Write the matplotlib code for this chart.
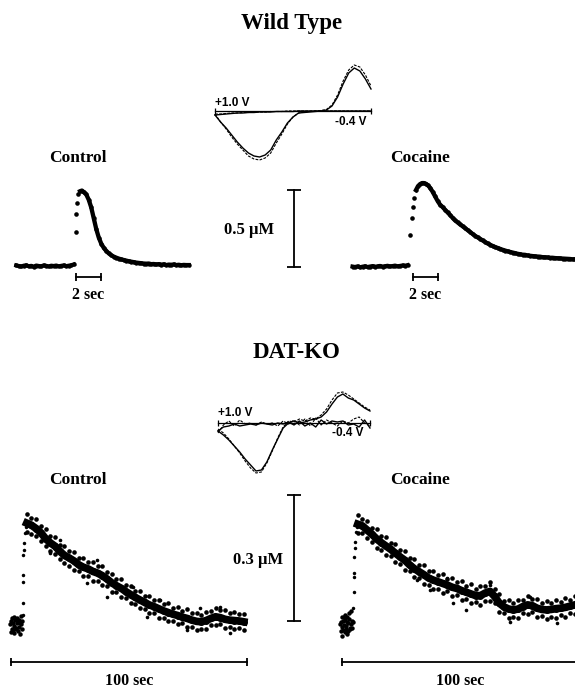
import numpy as np
import matplotlib
matplotlib.use("Agg")
import matplotlib.pyplot as plt

plt.rcParams['font.family'] = ['Liberation Serif', 'DejaVu Serif']

# ---------------- Wild type: concentration traces (sec, uM) ----------------
wt_ctrl_base_t = np.round(np.arange(-4.7, -0.05, 0.2), 2)
wt_ctrl_base_c = [0.004, 0.0, -0.003, 0.002, 0.005, -0.002, 0.001, -0.004, 0.003, 0.0,
                  -0.002, 0.004, 0.001, -0.003, 0.002, 0.0, 0.003, -0.002, 0.001, 0.004,
                  -0.001, 0.002, 0.005, 0.01]
wt_ctrl_rise_t = [0.05, 0.1, 0.15, 0.25]
wt_ctrl_rise_c = [0.22, 0.34, 0.41, 0.47]
wt_ctrl_decay_t = np.concatenate([[0.4, 0.55, 0.7], np.round(np.arange(0.9, 9.2, 0.2), 2)])
wt_ctrl_decay_c = [0.485, 0.49, 0.48,
                   0.465, 0.43, 0.38, 0.31, 0.24, 0.185, 0.145, 0.118, 0.098, 0.082,
                   0.07, 0.061, 0.054, 0.048, 0.043, 0.039, 0.035, 0.031, 0.028, 0.025,
                   0.022, 0.02, 0.018, 0.016, 0.015, 0.016, 0.012, 0.013, 0.01, 0.012,
                   0.009, 0.011, 0.006, 0.009, 0.008, 0.01, 0.006, 0.008, 0.005, 0.007,
                   0.006, 0.006]

wt_coc_base_t = np.round(np.arange(-4.6, -0.1, 0.2), 2)
wt_coc_base_c = [0.003, 0.0, 0.004, -0.002, 0.002, 0.005, 0.0, 0.003, 0.006, 0.002,
                 0.004, 0.007, 0.003, 0.005, 0.008, 0.004, 0.006, 0.009, 0.005, 0.007,
                 0.01, 0.008, 0.012]
wt_coc_rise_t = [0.02, 0.18, 0.26, 0.32]
wt_coc_rise_c = [0.21, 0.32, 0.39, 0.445]
wt_coc_decay_t = np.concatenate([[0.48, 0.64, 0.8, 0.96, 1.12, 1.28, 1.44],
                                 np.round(np.arange(1.6, 13.3, 0.2), 2)])
wt_coc_decay_c = [0.50, 0.525, 0.538, 0.545, 0.545, 0.54, 0.53,
                  0.515, 0.49, 0.46, 0.43, 0.405, 0.39, 0.372, 0.355, 0.338, 0.32,
                  0.303, 0.29, 0.277, 0.265, 0.253, 0.24, 0.228, 0.215, 0.203, 0.193,
                  0.183, 0.173, 0.163, 0.153, 0.145, 0.137, 0.13, 0.124, 0.118, 0.112,
                  0.107, 0.102, 0.098, 0.094, 0.09, 0.086, 0.083, 0.08, 0.079, 0.075,
                  0.073, 0.071, 0.069, 0.068, 0.067, 0.064, 0.063, 0.062, 0.06, 0.06,
                  0.058, 0.057, 0.056, 0.055, 0.054, 0.053, 0.052, 0.05, 0.05]

# ---------------- DAT-KO: concentration traces (sec, uM) ----------------
ko_band_t = np.arange(2, 95, 2)

kc_base_t = [-5.0, -4.6, -4.2, -3.8, -3.4, -3.0, -2.6, -2.2, -1.8, -1.4, -1.0, -0.6, -0.2,
             -4.8, -4.0, -3.2, -2.4, -1.6, -0.8, -0.1,
             -4.4, -3.6, -2.8, -2.0, -1.2, -0.4]
kc_base_c = [0.004, 0.012, -0.006, 0.008, 0.0, 0.014, -0.004, 0.006, 0.01, -0.002, 0.008, 0.004, 0.012,
             -0.014, -0.01, -0.016, -0.008, -0.012, -0.018, -0.006,
             0.018, 0.022, 0.016, 0.02, 0.014, 0.024]
kc_rise_t = [0.4, 0.4, 0.45, 0.45, 0.5, 0.85, 0.85, 1.3, 1.7]
kc_rise_c = [0.026, 0.055, 0.105, 0.121, 0.169, 0.181, 0.198, 0.221, 0.236]
kc_mid = [0.245, 0.24, 0.232, 0.222, 0.208, 0.198, 0.19, 0.178, 0.168, 0.162,
          0.155, 0.146, 0.14, 0.136, 0.13, 0.126, 0.12, 0.112, 0.103, 0.096,
          0.09, 0.082, 0.075, 0.068, 0.062, 0.056, 0.05, 0.046, 0.041, 0.036,
          0.032, 0.028, 0.025, 0.021, 0.018, 0.014, 0.011, 0.01, 0.013, 0.018,
          0.022, 0.02, 0.016, 0.014, 0.013, 0.012, 0.01]
kc_hi = [0.266, 0.258, 0.254, 0.238, 0.23, 0.214, 0.212, 0.194, 0.19, 0.178,
         0.176, 0.162, 0.162, 0.152, 0.152, 0.142, 0.142, 0.128, 0.124, 0.112,
         0.112, 0.098, 0.096, 0.084, 0.084, 0.072, 0.072, 0.062, 0.062, 0.052,
         0.054, 0.044, 0.046, 0.036, 0.04, 0.03, 0.03, 0.026, 0.034, 0.036,
         0.044, 0.038, 0.038, 0.03, 0.034, 0.028, 0.028]
kc_lo = [0.224, 0.22, 0.214, 0.202, 0.19, 0.178, 0.172, 0.16, 0.15, 0.144,
         0.134, 0.13, 0.118, 0.12, 0.108, 0.108, 0.098, 0.096, 0.082, 0.08,
         0.068, 0.066, 0.054, 0.052, 0.042, 0.04, 0.03, 0.03, 0.02, 0.02,
         0.012, 0.012, 0.004, 0.006, -0.002, -0.002, -0.01, -0.006, -0.006, 0.002,
         0.002, 0.004, -0.004, -0.002, -0.008, -0.004, -0.01]
kc_stray_t = [11.9, 16.0, 27.5, 31.8, 36.0, 47.0, 53.0, 58.5, 70.0, 75.4, 84.0, 88.0]
kc_stray_c = [0.174, 0.205, 0.102, 0.157, 0.069, 0.093, 0.021, 0.062, -0.01, 0.043, 0.045, -0.017]

kk_base_t = [-5.4, -5.0, -4.6, -4.2, -3.8, -3.4, -3.0, -2.6, -2.2, -1.8, -1.4, -1.0, -0.6, -0.2,
             -5.2, -4.4, -3.6, -2.8, -2.0, -1.2, -0.4,
             -4.8, -4.0, -3.2, -2.4, -1.6, -0.8,
             -4.5, -2.6]
kk_base_c = [0.002, 0.008, -0.004, 0.01, 0.0, 0.012, -0.002, 0.006, 0.004, 0.014, -0.006, 0.002, 0.01, 0.006,
             -0.014, -0.012, -0.016, -0.01, -0.014, -0.01, -0.008,
             0.018, 0.02, 0.024, 0.02, 0.028, 0.034,
             -0.026, -0.022]
kk_rise_t = [0.0, 0.4, 0.4, 0.45, 0.5, 0.85, 0.85, 1.3, 1.7]
kk_rise_c = [0.04, 0.079, 0.114, 0.124, 0.162, 0.183, 0.198, 0.221, 0.233]
kk_mid = [0.24, 0.236, 0.226, 0.216, 0.205, 0.196, 0.188, 0.18, 0.171, 0.162,
          0.154, 0.143, 0.134, 0.127, 0.12, 0.112, 0.107, 0.103, 0.099, 0.095,
          0.09, 0.087, 0.082, 0.078, 0.074, 0.07, 0.07, 0.076, 0.08, 0.068,
          0.052, 0.043, 0.038, 0.036, 0.038, 0.044, 0.048, 0.046, 0.04, 0.037,
          0.036, 0.037, 0.039, 0.04, 0.042, 0.045, 0.048]
kk_hi = [0.262, 0.252, 0.248, 0.232, 0.228, 0.212, 0.21, 0.196, 0.194, 0.178,
         0.176, 0.16, 0.156, 0.142, 0.142, 0.128, 0.128, 0.118, 0.122, 0.11,
         0.112, 0.102, 0.104, 0.094, 0.098, 0.086, 0.094, 0.094, 0.102, 0.086,
         0.074, 0.058, 0.06, 0.052, 0.06, 0.06, 0.07, 0.062, 0.062, 0.052,
         0.058, 0.052, 0.06, 0.054, 0.064, 0.06, 0.068]
kk_lo = [0.218, 0.218, 0.206, 0.198, 0.184, 0.178, 0.166, 0.164, 0.15, 0.146,
         0.132, 0.128, 0.114, 0.112, 0.098, 0.096, 0.086, 0.086, 0.076, 0.08,
         0.068, 0.072, 0.06, 0.062, 0.052, 0.054, 0.048, 0.058, 0.058, 0.052,
         0.03, 0.028, 0.016, 0.02, 0.016, 0.028, 0.026, 0.03, 0.018, 0.022,
         0.014, 0.02, 0.016, 0.024, 0.02, 0.028, 0.026]
kk_stray_t = [15.7, 27.0, 32.6, 40.0, 42.4, 48.0, 58.0, 66.5, 75.0, 86.4]
kk_stray_c = [0.179, 0.107, 0.083, 0.112, 0.052, 0.036, 0.095, 0.007, 0.067, 0.005]

# ---------------- cyclic voltammograms (V, current a.u.) ----------------
cv_volts = [1.0, 0.95, 0.9, 0.85, 0.8, 0.75, 0.7, 0.65, 0.6, 0.55, 0.5, 0.45, 0.4, 0.35,
            0.3, 0.25, 0.2, 0.15, 0.1, 0.05, 0.0, -0.05, -0.1, -0.15, -0.2, -0.25, -0.3,
            -0.35, -0.4]
wt_cv_solid = [-0.4, -1.1, -1.7, -2.4, -3.1, -3.7, -4.2, -4.5, -4.6, -4.4, -3.9, -2.9, -2.1,
               -1.2, -0.6, -0.2, -0.15, -0.1, -0.05, 0.0, 0.1, 0.5, 1.4, 2.7, 3.8, 4.3, 4.0,
               3.2, 2.2]
wt_cv_dash = [-0.3, -1.1, -1.8, -2.6, -3.3, -3.9, -4.5, -4.8, -4.9, -4.7, -4.2, -3.2, -2.3,
              -1.3, -0.6, -0.2, -0.1, -0.05, 0.0, 0.05, 0.15, 0.6, 1.6, 3.0, 4.1, 4.6, 4.4,
              3.6, 2.5]
wt_cv_solid_ret = [-0.4, -0.35, -0.3, -0.25, -0.2, -0.2, -0.15, -0.15, -0.1, -0.1, -0.1, -0.05,
                   -0.05, -0.05, -0.05, 0.0, 0.0, 0.0, 0.0, 0.0, 0.0, 0.0, 0.0, 0.0, 0.0, 0.0,
                   0.0, 0.0, 0.0]
wt_cv_dash_ret = [-0.3, -0.3, -0.25, -0.2, -0.2, -0.15, -0.15, -0.1, -0.1, -0.1, -0.05, -0.05,
                  -0.05, 0.0, 0.0, 0.0, 0.0, 0.0, 0.0, 0.0, 0.0, 0.0, 0.0, 0.0, 0.0, 0.0, 0.0,
                  0.0, 0.0]
ko_cv_solid = [-0.8, -1.2, -1.7, -2.3, -2.9, -3.6, -4.2, -4.8, -4.7, -3.9, -2.7, -1.6, -0.5,
               0.0, 0.2, 0.0, 0.1, 0.3, 0.4, 0.6, 1.1, 1.9, 2.6, 2.9, 2.5, 2.3, 1.9, 1.5, 1.2]
ko_cv_dash = [-0.6, -1.0, -1.6, -2.3, -3.0, -3.8, -4.5, -5.0, -4.9, -4.0, -2.8, -1.5, -0.4,
              0.2, 0.1, 0.4, 0.2, 0.5, 0.4, 0.8, 1.4, 2.3, 3.0, 3.1, 2.8, 2.4, 2.0, 1.6, 1.3]
ko_cv_solid_ret = [-0.8, -0.4, -0.3, -0.1, -0.3, -0.2, -0.1, -0.2, 0.0, -0.1, -0.2, 0.0, -0.1,
                   0.1, -0.2, 0.2, -0.3, 0.0, -0.4, 0.3, -0.1, 0.2, 0.1, 0.2, -0.2, -0.1, -0.4,
                   0.3, -0.5]
ko_cv_dash_ret = [-1.0, -0.2, 0.2, -0.3, 0.3, -0.1, 0.0, -0.2, 0.1, -0.1, 0.0, -0.3, 0.2,
                  -0.1, 0.3, -0.2, 0.4, -0.3, 0.5, -0.2, 0.3, 0.0, -0.3, 0.2, 0.0, 0.4, 0.6,
                  0.0, -0.3]

W, H = 575, 688
fig = plt.figure(figsize=(W / 100, H / 100), dpi=100)


def make_axes(box, x_ref_px, y_ref_px, x_ref_val, y_ref_val, px_per_x, px_per_y):
    # box in pixels from top-left; map pixel reference points to data values
    x0, y0, x1, y1 = box
    ax = fig.add_axes([x0 / W, 1 - y1 / H, (x1 - x0) / W, (y1 - y0) / H])
    ax.set_xlim(x_ref_val + (x0 - x_ref_px) / px_per_x, x_ref_val + (x1 - x_ref_px) / px_per_x)
    ax.set_ylim(y_ref_val + (y_ref_px - y1) / px_per_y, y_ref_val + (y_ref_px - y0) / px_per_y)
    ax.axis('off')
    return ax


def wt_trace(ax, base_t, base_c, rise_t, rise_c, decay_t, decay_c):
    kw = dict(color='black', marker='o', ms=3.2, mew=0)
    ax.plot(base_t, base_c, '-', lw=3.0, **kw)
    ax.plot(rise_t, rise_c, 'o', color='black', ms=3.3, mew=0)
    ax.plot(decay_t, decay_c, '-', lw=3.1, **kw)


def ko_trace(ax, base_t, base_c, rise_t, rise_c, mid, hi, lo, stray_t, stray_c):
    ax.plot(base_t, base_c, 'o', color='black', ms=3.2, mew=0)
    ax.plot(rise_t, rise_c, 'o', color='black', ms=2.5, mew=0)
    ax.plot(ko_band_t, mid, '-', color='black', lw=5.5)
    ax.plot(ko_band_t, mid, 'o', color='black', ms=5.0, mew=0)
    ax.plot(ko_band_t, hi, 'o', color='black', ms=3.3, mew=0)
    ax.plot(ko_band_t, lo, 'o', color='black', ms=3.3, mew=0)
    ax.plot(stray_t, stray_c, 'o', color='black', ms=2.6, mew=0)


def time_bar(ax, t0, t1, y, label, label_y):
    ax.plot([t0, t1], [y, y], color='black', lw=1.3, marker='|', ms=6, mew=1.3)
    ax.text((t0 + t1) / 2, label_y, label, ha='center', va='center',
            fontsize=11.5, fontweight='bold')


label_kw = dict(ha='center', va='center', fontsize=12.5, fontweight='bold')
cv_kw = dict(fontsize=8.5, fontweight='bold', family=['Liberation Sans', 'DejaVu Sans'])

# ---------------- Wild type ----------------
fig.text(292 / W, 1 - 23 / H, 'Wild Type', ha='center', va='center',
         fontsize=16.5, fontweight='bold')

ax = make_axes((0, 140, 200, 310), 75, 266, 0.0, 0.0, 12.5, 154)
wt_trace(ax, wt_ctrl_base_t, wt_ctrl_base_c, wt_ctrl_rise_t, wt_ctrl_rise_c,
         wt_ctrl_decay_t, wt_ctrl_decay_c)
ax.text(0.24, 0.701, 'Control', **label_kw)
time_bar(ax, 0.08, 2.08, -0.071, '2 sec', -0.188)

ax = make_axes((340, 140, 575, 310), 410, 267, 0.0, 0.0, 12.5, 154)
wt_trace(ax, wt_coc_base_t, wt_coc_base_c, wt_coc_rise_t, wt_coc_rise_c,
         wt_coc_decay_t, wt_coc_decay_c)
ax.text(0.8, 0.708, 'Cocaine', **label_kw)
time_bar(ax, 0.2, 2.2, -0.065, '2 sec', -0.182)

# concentration scale bar
ax = make_axes((205, 175, 340, 285), 294, 267, 0.0, 0.0, 1.0, 154)
ax.plot([0, 0], [0, 0.5], color='black', lw=1.3, marker='_', ms=10, mew=1.3)
ax.text(-45, 0.24, '0.5 \u03bcM', ha='center', va='center', fontsize=12, fontweight='bold')

# voltammogram
ax = make_axes((205, 55, 380, 170), 215, 111, 1.0, 0.0, -111.43, 10)
ax.plot([1.0, -0.4], [0, 0], color='black', lw=0.9, marker='|', ms=4, mew=0.9)
ax.plot(cv_volts, wt_cv_dash, color='black', lw=0.8, ls=(0, (2.5, 1.2)))
ax.plot(cv_volts, wt_cv_dash_ret, color='black', lw=0.8, ls=(0, (2.5, 1.2)))
ax.plot(cv_volts, wt_cv_solid, color='black', lw=1.0)
ax.plot(cv_volts, wt_cv_solid_ret, color='black', lw=1.0)
ax.text(1.0, 0.8, '+1.0 V', ha='left', va='center', **cv_kw)
ax.text(-0.364, -1.1, '-0.4 V', ha='right', va='center', **cv_kw)

# ---------------- DAT-KO ----------------
fig.text(296 / W, 1 - 352 / H, 'DAT-KO', ha='center', va='center',
         fontsize=16.5, fontweight='bold')

ax = make_axes((0, 470, 270, 688), 22, 626, 0.0, 0.0, 2.36, 420)
ko_trace(ax, kc_base_t, kc_base_c, kc_rise_t, kc_rise_c, kc_mid, kc_hi, kc_lo,
         kc_stray_t, kc_stray_c)
ax.text(23.7, 0.348, 'Control', **label_kw)
time_bar(ax, -4.7, 95.3, -0.0857, '100 sec', -0.131)

ax = make_axes((330, 470, 575, 688), 353, 625, 0.0, 0.0, 2.36, 420)
ko_trace(ax, kk_base_t, kk_base_c, kk_rise_t, kk_rise_c, kk_mid, kk_hi, kk_lo,
         kk_stray_t, kk_stray_c)
ax.text(28.4, 0.345, 'Cocaine', **label_kw)
time_bar(ax, -4.7, 95.3, -0.088, '100 sec', -0.133)

ax = make_axes((205, 480, 340, 640), 294, 621, 0.0, 0.0, 1.0, 420)
ax.plot([0, 0], [0, 0.3], color='black', lw=1.3, marker='_', ms=10, mew=1.3)
ax.text(-36, 0.145, '0.3 \u03bcM', ha='center', va='center', fontsize=12, fontweight='bold')

ax = make_axes((205, 375, 380, 490), 218, 423, 1.0, 0.0, -108.57, 10)
ax.plot([1.0, -0.4], [0, 0], color='black', lw=0.9, marker='|', ms=4, mew=0.9)
ax.plot(cv_volts, ko_cv_dash, color='black', lw=0.8, ls=(0, (2.5, 1.2)))
ax.plot(cv_volts, ko_cv_dash_ret, color='black', lw=0.8, ls=(0, (2.5, 1.2)))
ax.plot(cv_volts, ko_cv_solid, color='black', lw=1.0)
ax.plot(cv_volts, ko_cv_solid_ret, color='black', lw=1.0)
ax.text(1.0, 1.0, '+1.0 V', ha='left', va='center', **cv_kw)
ax.text(-0.336, -1.0, '-0.4 V', ha='right', va='center', **cv_kw)

fig.savefig('out.png', dpi=100, facecolor='white')
